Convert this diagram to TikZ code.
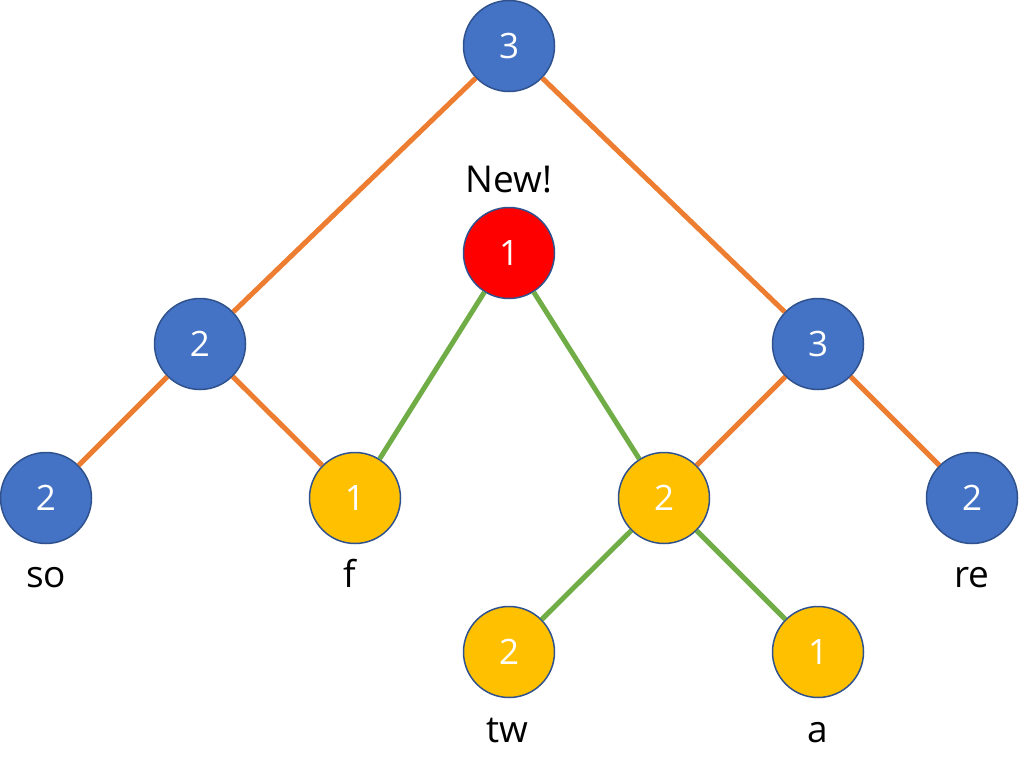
\documentclass[tikz,border=0pt]{standalone}
\usepackage{fontspec}
\setmainfont{Open Sans}
\definecolor{nblue}{HTML}{4472C4}
\definecolor{nyellow}{HTML}{FFC000}
\definecolor{nred}{HTML}{FF0000}
\definecolor{nborder}{HTML}{2F528F}
\definecolor{eorange}{HTML}{ED7D31}
\definecolor{egreen}{HTML}{70AD47}
\begin{document}
\begin{tikzpicture}[x=1pt,y=-1pt,
  nd/.style={circle,draw=nborder,line width=1.5pt,minimum size=91pt,inner sep=0pt,text=white,font=\fontsize{35}{40}\selectfont},
  bl/.style={nd,fill=nblue},
  yl/.style={nd,fill=nyellow},
  rd/.style={nd,fill=nred},
  lbl/.style={anchor=base,font=\fontsize{37}{42}\selectfont,text=black,inner sep=0pt},
  oe/.style={draw=eorange,line width=5pt},
  ge/.style={draw=egreen,line width=5pt}]
\useasboundingbox (0,0) rectangle (1019,773);
\node[bl] (top) at (509,46) {3};
\node[rd] (new) at (509,253) {1};
\node[bl] (l2) at (200,344) {2};
\node[bl] (r3) at (818,344) {3};
\node[bl] (so) at (46,498) {2};
\node[yl] (f) at (355,498) {1};
\node[yl] (y2) at (664,498) {2};
\node[bl] (re) at (972,498) {2};
\node[yl] (tw) at (509,652) {2};
\node[yl] (a) at (818,652) {1};
\path[oe] (top) -- (l2);
\path[oe] (top) -- (r3);
\path[oe] (l2) -- (so);
\path[oe] (l2) -- (f);
\path[oe] (r3) -- (y2);
\path[oe] (r3) -- (re);
\path[ge] (new) -- (f);
\path[ge] (new) -- (y2);
\path[ge] (y2) -- (tw);
\path[ge] (y2) -- (a);
\node[lbl] (lnew) at (509,192) {New!};
\node[lbl] (lso) at (46,587) {so};
\node[lbl] (lf) at (350,587) {f};
\node[lbl] (lre) at (972,587) {re};
\node[lbl] (ltw) at (507,742) {tw};
\node[lbl] (la) at (818,742) {a};
\end{tikzpicture}
\end{document}
